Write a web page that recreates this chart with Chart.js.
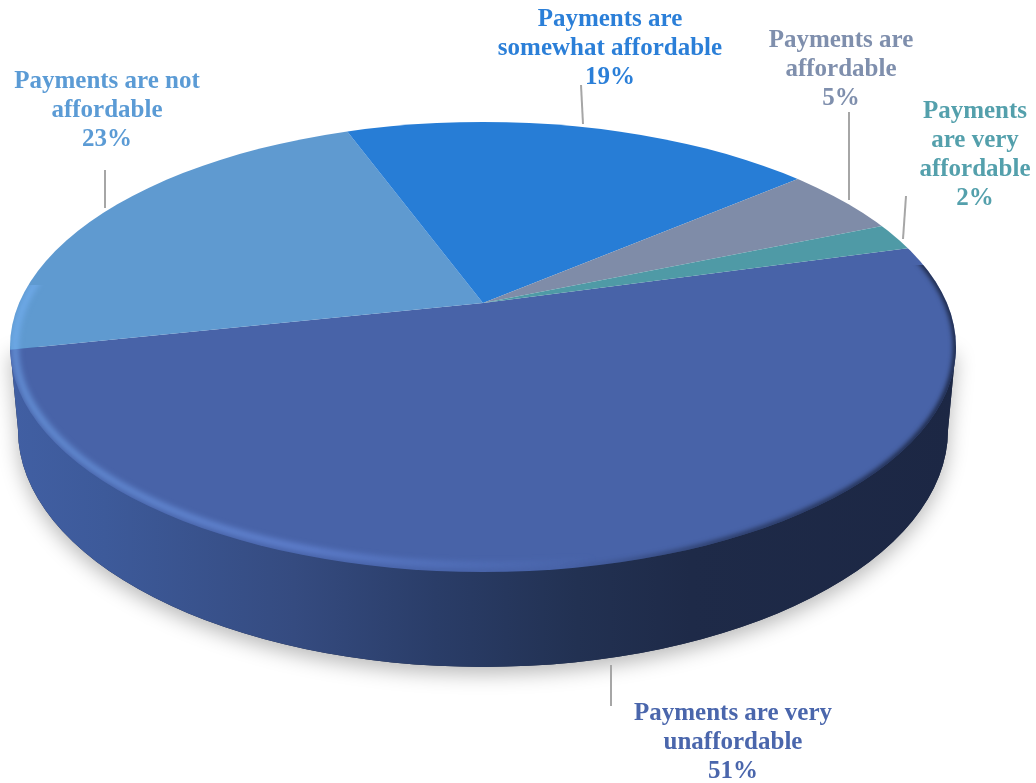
<!DOCTYPE html>
<html><head><meta charset="utf-8">
<style>html,body{margin:0;padding:0;background:#fff}#w{width:1036px;height:783px}</style>
<script src="https://cdn.jsdelivr.net/npm/chart.js@4"></script></head>
<body><div id="w"><canvas id="c" width="1036" height="783"></canvas></div>
<script>
const categories = [["Payments are very","unaffordable"],["Payments are not","affordable"],["Payments are","somewhat affordable"],["Payments are","affordable"],["Payments","are very","affordable"]];
const shares = [51,23,19,5,2];
const sliceColors = ["#4863A8","#5F9AD0","#277DD6","#7F8CA8","#4F9AA6"];
const labelColors = ["#4A66AC","#5B9BD5","#2B7FD8","#7F8FAD","#54A0AC"];
const labelAnchors = [[733,714],[107,82],[610,20],[841,41],[975,112]];
const lineSteps = [29,29,29,29,29];
const leaders = [[611,665,611,706],[105,170,105,208],[581,85,583,124],[849,112,849,200],[906,196,903,239]];

// Projection of the disc
const apex = {x:483,y:303}, squash = 0.45, startAngle = 74;
const top3d = {x:483,y:347,rx:473,ry:225};
const base3d = {x:483,y:430,rx:465,ry:237};

function ell(ctx,e,inx=0,iny=0){ctx.beginPath();ctx.ellipse(e.x,e.y,e.rx-inx,e.ry-iny,0,0,Math.PI*2);}

const disc = {
  id:'disc',
  beforeDatasetsDraw(chart){
    const ctx=chart.ctx, a=chart.chartArea;
    const wall=()=>{
      ctx.beginPath();
      ctx.moveTo(top3d.x-top3d.rx,top3d.y);
      ctx.lineTo(base3d.x-base3d.rx,base3d.y);
      ctx.ellipse(base3d.x,base3d.y,base3d.rx,base3d.ry,0,Math.PI,0,true);
      ctx.lineTo(top3d.x+top3d.rx,top3d.y);
      ctx.closePath();
    };
    ctx.save();
    ctx.shadowColor='rgba(0,0,0,0.28)';ctx.shadowBlur=20;ctx.shadowOffsetY=7;ctx.fillStyle='#1d2844';
    wall();ctx.fill();
    ctx.restore();
    ctx.save();
    const g=ctx.createLinearGradient(10,0,956,0);
    [[0,'#415FA3'],[0.1,'#3D5A9A'],[0.3,'#354B80'],[0.45,'#2A3D68'],[0.6,'#223152'],[0.72,'#1E2A48'],[1,'#1C2744']].forEach(s=>g.addColorStop(s[0],s[1]));
    ctx.fillStyle=g;wall();ctx.fill();
    ctx.restore();
    // pie surface: library arcs projected onto the disc top
    ctx.save();
    ell(ctx,top3d);ctx.clip();
    ctx.translate(apex.x,apex.y);ctx.scale(1,squash);
    ctx.translate(-(a.left+a.right)/2,-(a.top+a.bottom)/2);
  },
  afterDatasetsDraw(chart){
    const ctx=chart.ctx;
    ctx.restore();
    // bevel: highlight on front-left, shade on front-right
    ctx.save();
    ell(ctx,top3d);ctx.clip();
    ctx.save();
    ctx.beginPath();ctx.rect(0,285,700,500);ctx.clip();
    ctx.filter='blur(3px)';
    const hi=ctx.createLinearGradient(10,0,956,0);
    hi.addColorStop(0,'rgba(125,185,255,0.7)');
    hi.addColorStop(0.3,'rgba(125,165,255,0.6)');
    hi.addColorStop(0.48,'rgba(110,150,240,0.3)');
    hi.addColorStop(0.62,'rgba(110,150,240,0)');
    ctx.strokeStyle=hi;ctx.lineWidth=5;
    ell(ctx,top3d,5,7);ctx.stroke();
    ctx.restore();
    ctx.beginPath();ctx.rect(560,265,476,500);ctx.clip();
    ctx.filter='blur(2.5px)';
    const lo=ctx.createLinearGradient(560,0,956,0);
    lo.addColorStop(0,'rgba(28,39,68,0)');
    lo.addColorStop(0.4,'rgba(28,39,68,0.75)');
    lo.addColorStop(1,'rgba(20,28,50,1)');
    ctx.strokeStyle=lo;ctx.lineWidth=5;
    ell(ctx,top3d,0,0);ctx.stroke();
    ctx.restore();
    // leaders
    ctx.save();
    ctx.strokeStyle='#A6A6A6';ctx.lineWidth=2;
    leaders.forEach(l=>{ctx.beginPath();ctx.moveTo(l[0],l[1]);ctx.lineTo(l[2],l[3]);ctx.stroke();});
    // labels
    ctx.font='bold 25px "Liberation Serif"';ctx.textAlign='center';ctx.textBaseline='middle';
    categories.forEach((lines,i)=>{
      ctx.fillStyle=labelColors[i];
      const [x,y]=labelAnchors[i];
      [...lines,shares[i]+'%'].forEach((t,j)=>ctx.fillText(t,x,y+j*lineSteps[i]));
    });
    ctx.restore();
  }
};

new Chart(document.getElementById('c'),{
  type:'pie',
  data:{labels:categories.map(c=>c.join(' ')),datasets:[{data:shares,backgroundColor:sliceColors,borderWidth:0,hoverOffset:0,radius:660,clip:false}]},
  options:{responsive:false,animation:false,rotation:startAngle,events:[],
    plugins:{legend:{display:false},tooltip:{enabled:false},title:{display:false}}},
  plugins:[disc]
});
</script></body></html>
